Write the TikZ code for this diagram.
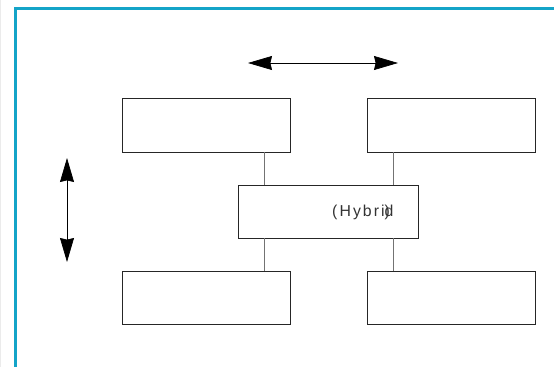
\documentclass[tikz,border=0pt]{standalone}
\usepackage{fontspec}
\setmainfont{Liberation Sans}
\usetikzlibrary{arrows.meta}
\definecolor{framecyan}{RGB}{20,164,200}

\begin{document}
\begin{tikzpicture}[x=0.03cm, y=-0.03cm,
        box/.style={draw=black!85, line width=0.6pt, minimum width=168*0.03cm, minimum height=54*0.03cm, inner sep=0pt},
        link/.style={draw=black!55, line width=0.6pt},
        twoway/.style={line width=0.6pt, {Stealth[length=0.72cm, width=0.42cm, inset=0.05cm]}-{Stealth[length=0.72cm, width=0.42cm, inset=0.05cm]}}]
        \useasboundingbox (0,0) rectangle (554,367);
        \draw[black!8, line width=0.5pt] (0.5,0) -- (0.5,367);
        \draw[framecyan, line width=2.1pt] (15.5,380) -- (15.5,8.5) -- (570,8.5);
        \node[box] (tl) at (206,125) {};
        \node[box] (tr) at (451.5,125) {};
        \node[box, minimum width=180*0.03cm, minimum height=53*0.03cm] (mid) at (328,211.5) {};
        \node[box, minimum height=53*0.03cm] (bl) at (206,297.5) {};
        \node[box, minimum height=53*0.03cm] (br) at (451.5,297.5) {};
        \node[anchor=west, inner sep=0pt, text=black!80, font=\fontsize{13.5}{16}\selectfont\addfontfeature{LetterSpace=13}] (lbl) at (332,212) {(Hybri\rlap{)}d};
        \draw[link] (tl.south -| 264,0) -- (mid.north -| 264,0);
        \draw[link] (tr.south -| 393,0) -- (mid.north -| 393,0);
        \draw[link] (mid.south -| 264,0) -- (bl.north -| 264,0);
        \draw[link] (mid.south -| 393,0) -- (br.north -| 393,0);
        \coordinate (hl) at (248,63);
        \coordinate (hr) at (398,63);
        \coordinate (vt) at (67,158);
        \coordinate (vb) at (67,262);
        \draw[twoway] (hl) -- (hr);
        \draw[twoway] (vt) -- (vb);
    \end{tikzpicture}
\end{document}
